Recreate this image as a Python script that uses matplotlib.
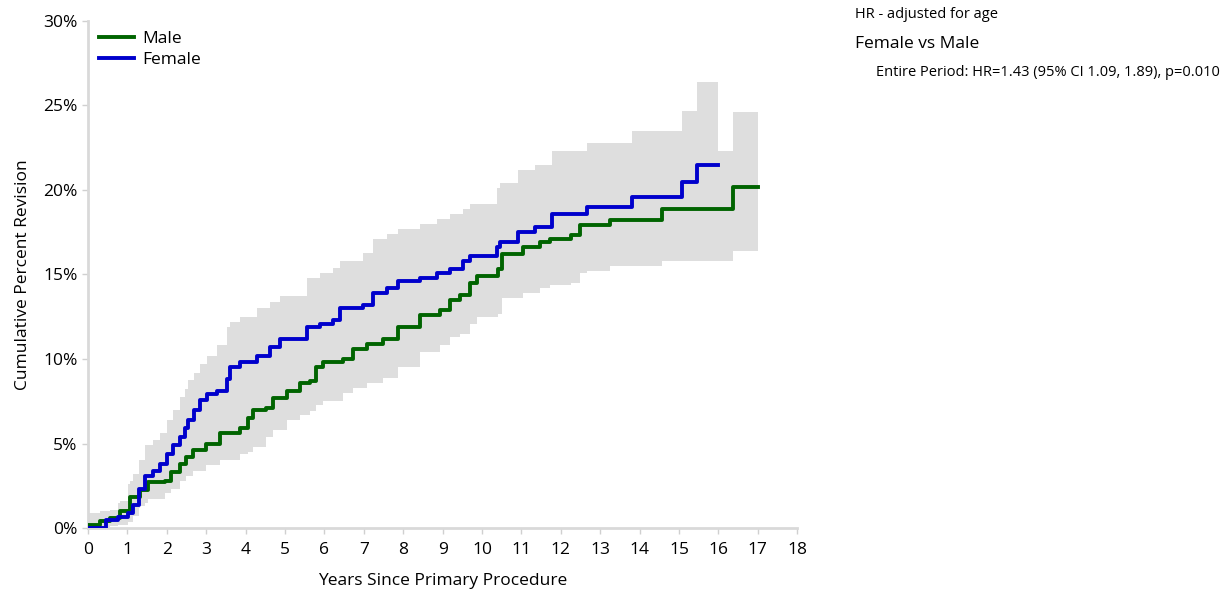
import matplotlib
matplotlib.use('Agg')
import matplotlib.pyplot as plt
import numpy as np

plt.rcParams['font.family'] = ['Open Sans', 'DejaVu Sans']

# Female: step times (years), cumulative % revision and 95% CI
female_t = [0, 0.47, 0.75, 1.02, 1.15, 1.30, 1.45, 1.65, 1.83, 2.00, 2.15, 2.33, 2.45, 2.54,
            2.70, 2.84, 3.01, 3.27, 3.52, 3.60, 3.86, 4.28, 4.62, 4.87, 5.55, 5.88, 6.22, 6.40,
            6.98, 7.24, 7.58, 7.87, 8.43, 8.85, 9.19, 9.53, 9.70, 10.37, 10.46, 10.91, 11.35,
            11.77, 12.66, 13.80, 15.07, 15.45]
female_v = [0, 0.47, 0.65, 0.87, 1.36, 2.3, 3.1, 3.4, 3.8, 4.4, 4.9, 5.4, 5.9, 6.4,
            7.0, 7.6, 7.9, 8.1, 8.8, 9.5, 9.8, 10.2, 10.7, 11.2, 11.9, 12.1, 12.3, 13.0,
            13.2, 13.9, 14.2, 14.6, 14.8, 15.1, 15.3, 15.8, 16.1, 16.6, 16.9, 17.5, 17.8,
            18.6, 19.0, 19.6, 20.5, 21.5]
female_hi = [0.5, 1.0, 1.5, 2.6, 3.2, 4.0, 4.9, 5.2, 5.6, 6.4, 7.0, 7.75, 8.2, 8.75,
             9.2, 9.7, 10.2, 10.8, 11.9, 12.2, 12.5, 13.0, 13.4, 13.7, 14.8, 15.1, 15.4, 15.8,
             16.3, 17.1, 17.4, 17.7, 18.0, 18.3, 18.6, 18.9, 19.2, 20.1, 20.4, 21.2, 21.5,
             22.3, 22.8, 23.5, 24.7, 26.4]
female_lo = [0, 0.1, 0.2, 0.35, 0.7, 1.3, 1.9, 2.2, 2.5, 2.9, 3.3, 3.7, 4.1, 4.6,
             5.1, 5.6, 5.9, 6.1, 6.6, 7.2, 7.5, 7.8, 8.3, 8.8, 9.3, 9.5, 9.7, 10.3,
             10.5, 11.1, 11.3, 11.7, 11.9, 12.1, 12.3, 12.8, 13.0, 13.4, 13.7, 14.2, 14.5,
             15.1, 15.5, 16.0, 16.7, 17.4]
female_end = 16.0

# Male
male_t = [0, 0.30, 0.56, 0.81, 1.07, 1.32, 1.52, 1.95, 2.10, 2.33, 2.50, 2.67, 3.00, 3.35,
          3.86, 4.05, 4.20, 4.53, 4.70, 5.04, 5.38, 5.63, 5.80, 5.97, 6.47, 6.73, 7.07, 7.49,
          7.87, 8.43, 8.93, 9.19, 9.44, 9.70, 9.87, 10.40, 10.50, 11.04, 11.47, 11.73, 12.27,
          12.49, 13.25, 14.56, 16.37]
male_v = [0.2, 0.4, 0.6, 1.0, 1.86, 2.25, 2.74, 2.8, 3.3, 3.8, 4.2, 4.6, 5.0, 5.6,
          5.9, 6.5, 7.0, 7.1, 7.7, 8.1, 8.6, 8.7, 9.5, 9.8, 10.0, 10.6, 10.9, 11.2,
          11.9, 12.6, 12.9, 13.5, 13.8, 14.5, 14.9, 15.3, 16.2, 16.6, 16.9, 17.1, 17.35,
          17.9, 18.2, 18.9, 20.2]
male_hi = [0.9, 1.0, 1.05, 1.6, 2.8, 3.2, 3.9, 3.7, 4.4, 4.9, 5.4, 5.9, 6.4, 7.3,
           7.6, 8.6, 9.3, 9.0, 9.7, 9.9, 10.6, 10.6, 11.8, 12.2, 12.1, 12.9, 13.3, 13.6,
           14.4, 14.9, 15.1, 15.8, 16.2, 16.9, 17.4, 18.0, 18.9, 19.4, 19.7, 19.9, 20.3,
           20.7, 21.0, 22.3, 24.6]
male_lo = [0, 0.05, 0.2, 0.6, 1.2, 1.5, 1.7, 2.05, 2.3, 2.8, 3.1, 3.4, 3.7, 4.0,
           4.4, 4.5, 4.8, 5.4, 5.8, 6.4, 6.7, 6.9, 7.3, 7.5, 8.0, 8.3, 8.6, 8.9,
           9.5, 10.4, 10.8, 11.3, 11.5, 12.1, 12.5, 12.65, 13.6, 13.9, 14.2, 14.4, 14.5,
           15.2, 15.5, 15.8, 16.4]
male_end = 17.0

x_ticks = list(range(0, 19))
y_ticks = [0, 5, 10, 15, 20, 25, 30]


def ext(t, v, end):
    # repeat the last value up to the end of follow-up
    return list(t) + [end], list(v) + [v[-1]]


fig = plt.figure(figsize=(12.27, 5.93), dpi=100)
ax = fig.add_axes([0.0717, 0.1096, 0.578, 0.855])

band = '#dedede'
for t, lo, hi, end in [(male_t, male_lo, male_hi, male_end),
                       (female_t, female_lo, female_hi, female_end)]:
    tt, ll = ext(t, lo, end)
    _, hh = ext(t, hi, end)
    ax.fill_between(tt, ll, hh, step='post', color=band, linewidth=0, zorder=1)

tt, vv = ext(male_t, male_v, male_end)
ax.step(tt, vv, where='post', color='#006400', lw=2.8, label='Male', zorder=3)
tt, vv = ext(female_t, female_v, female_end)
ax.step(tt, vv, where='post', color='#0000cc', lw=2.8, label='Female', zorder=4)

ax.set_xlim(0, 18)
ax.set_ylim(0, 30)
ax.set_xticks(x_ticks)
ax.set_yticks(y_ticks)
ax.set_yticklabels([f'{v}%' for v in y_ticks])
ax.tick_params(axis='both', labelsize=12.5, colors='#d0d0d0', labelcolor='black',
               length=4, width=1)
ax.tick_params(axis='x', pad=6)
for s in ['top', 'right']:
    ax.spines[s].set_visible(False)
for s in ['left', 'bottom']:
    ax.spines[s].set_color('#d9d9d9')
    ax.spines[s].set_linewidth(2)

ax.set_xlabel('Years Since Primary Procedure', fontsize=12.5, labelpad=11)
ax.set_ylabel('Cumulative Percent Revision', fontsize=12.5, labelpad=9)

ax.legend(loc='upper left', frameon=False, fontsize=12.5, handlelength=2.0,
          handletextpad=0.5, labelspacing=0.3, borderaxespad=0.0,
          bbox_to_anchor=(0.006, 0.995))

fig.text(855 / 1227, 1 - 14 / 593, 'HR - adjusted for age', fontsize=10.5, va='center')
fig.text(855 / 1227, 1 - 44 / 593, 'Female vs Male', fontsize=12.5, va='center')
fig.text(876 / 1227, 1 - 73 / 593, 'Entire Period: HR=1.43 (95% CI 1.09, 1.89), p=0.010',
         fontsize=10.5, va='center')

fig.savefig('out.png', dpi=100)
plt.close(fig)
